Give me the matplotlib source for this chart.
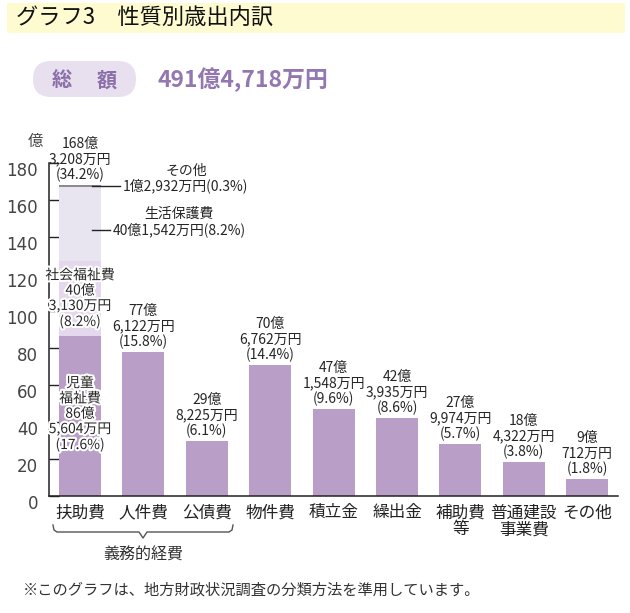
import matplotlib.pyplot as plt
import matplotlib.patheffects as pe
from matplotlib.patches import FancyBboxPatch, Rectangle
from matplotlib.lines import Line2D
from matplotlib.transforms import ScaledTranslation

plt.rcParams['font.family'] = ['Noto Sans CJK JP', 'DejaVu Sans']

# 性質別歳出（億円・万円・構成比）
categories = ['扶助費', '人件費', '公債費', '物件費', '積立金', '繰出金',
              '補助費\n等', '普通建設\n事業費', 'その他']
oku = [168, 77, 29, 70, 47, 42, 27, 18, 9]
man = ['3,208', '6,122', '8,225', '6,762', '1,548', '3,935', '9,974', '4,322', '712']
pct = [34.2, 15.8, 6.1, 14.4, 9.6, 8.6, 5.7, 3.8, 1.8]

# 扶助費の内訳
part_names = ['児童\n福祉費', '社会福祉費', '生活保護費', 'その他']
part_oku = [86, 40, 40, 1]
part_man = ['5,604', '3,130', '1,542', '2,932']
part_pct = [17.6, 8.2, 8.2, 0.3]

y_ticks = [0, 20, 40, 60, 80, 100, 120, 140, 160, 180]

def to_oku(o, m):
    return o + int(m.replace(',', '')) / 10000

values = [to_oku(o, m) for o, m in zip(oku, man)]
parts = [to_oku(o, m) for o, m in zip(part_oku, part_man)]

bar_color = '#b99fc7'
part_colors = ['#b99fc7', '#e5d8ec', '#e8e5f0', '#8c8c8c']
txt = '#262626'

fig = plt.figure(figsize=(6.3, 6.13), dpi=100)
W, H = 630, 613

def fx(px):
    return px / W

def fy(py):
    return 1 - py / H

# header band
fig.patches.append(Rectangle((fx(7), fy(33)), fx(618), 30 / H,
                             transform=fig.transFigure, facecolor='#fffbd0', edgecolor='none'))
fig.text(fx(16), fy(18), 'グラフ3\u3000性質別歳出内訳', fontsize=16, color='#111111', va='center')

# total pill (pixel coordinates)
fig.patches.append(FancyBboxPatch((33, H - 97), 103, 36,
                                  boxstyle='round,pad=0,rounding_size=18',
                                  transform=None, facecolor='#e8e0ef', edgecolor='none'))
fig.text(fx(62), fy(80), '総', fontsize=14.5, fontweight='bold', color='#8a6fa8', ha='center', va='center')
fig.text(fx(107), fy(80), '額', fontsize=14.5, fontweight='bold', color='#8a6fa8', ha='center', va='center')
fig.text(fx(158), fy(80), '491億4,718万円', fontsize=16.5, fontweight='bold', color='#9277b0', va='center')

ax = fig.add_axes([fx(49), fy(496), fx(618 - 49), (496 - 163) / H])
x = list(range(len(categories)))
width = 0.66

# 扶助費 stacked
bottom = 0
for val, col in zip(parts, part_colors):
    ax.bar(0, val, width=width, bottom=bottom, color=col, zorder=2)
    bottom += val
ax.bar(x[1:], values[1:], width=width, color=bar_color, zorder=2)

# value labels above bars
for i, (o, m, p, v) in enumerate(zip(oku, man, pct, values)):
    ax.text(i, v + 1.5, f'{o}億\n{m}万円\n({p}%)', ha='center', va='bottom',
            fontsize=10, color=txt, linespacing=1.12)

# inner labels of 扶助費
stroke = [pe.withStroke(linewidth=3, foreground='white')]
starts = [sum(parts[:k]) for k in range(len(parts))]
for k in (0, 1):
    mid = starts[k] + parts[k] / 2
    ax.text(0, mid + (1 if k == 0 else 0),
            f'{part_names[k]}\n{part_oku[k]}億\n{part_man[k]}万円\n({part_pct[k]}%)',
            ha='center', va='center', fontsize=10, color=txt, linespacing=1.12,
            path_effects=stroke, zorder=4)

# side annotations
y_other = starts[3] + parts[3] / 2
ax.plot([0.19, 0.63], [y_other, y_other], color='#222222', lw=1, clip_on=False, zorder=3)
ax.text(1.67, y_other + 8.2, part_names[3], ha='center', va='center', fontsize=10, color=txt)
ax.text(1.67, y_other, f'{part_oku[3]}億{part_man[3]}万円({part_pct[3]}%)',
        ha='center', va='center', fontsize=10, color=txt)

y_hogo = 144
ax.plot([0.19, 0.47], [y_hogo, y_hogo], color='#222222', lw=1, clip_on=False, zorder=3)
ax.text(1.56, y_hogo + 8.6, part_names[2], ha='center', va='center', fontsize=10, color=txt)
ax.text(1.56, y_hogo, f'{part_oku[2]}億{part_man[2]}万円({part_pct[2]}%)',
        ha='center', va='center', fontsize=10, color=txt)

ax.set_xlim(-0.489, 8.486)
ax.set_ylim(0, 180)
ax.set_yticks(y_ticks)
ax.set_yticklabels([str(t) for t in y_ticks], fontsize=12, color='#444444', family='DejaVu Sans')
ax.tick_params(axis='y', direction='in', length=7.5, width=1, pad=8, color='#222222')
offset = ScaledTranslation(0, -0.06, fig.dpi_scale_trans)
for lab in ax.get_yticklabels():
    lab.set_transform(lab.get_transform() + offset)
ax.set_xticks(x)
ax.set_xticklabels(categories, fontsize=12, color='#222222', linespacing=1.0)
ax.tick_params(axis='x', length=0, pad=6)

for s in ('top', 'right'):
    ax.spines[s].set_visible(False)
for s in ('left', 'bottom'):
    ax.spines[s].set_linewidth(1.1)
    ax.spines[s].set_color('#222222')

fig.text(fx(35), fy(141), '億', fontsize=11, color='#444444', ha='center', va='center')

# brace under 義務的経費
bx = [53, 54, 57, 139, 143, 147, 229, 232, 233]
by = [525, 530, 532, 532, 538, 532, 532, 530, 525]
fig.add_artist(Line2D([fx(v) for v in bx], [fy(v) for v in by], color='#555555', lw=1,
                      transform=fig.transFigure))
fig.text(fx(143), fy(555), '義務的経費', fontsize=11.5, color='#333333', ha='center', va='center')

fig.text(fx(23), fy(590), '※このグラフは、地方財政状況調査の分類方法を準用しています。',
         fontsize=11, color='#333333', va='center')

fig.savefig('out.png', dpi=100)
